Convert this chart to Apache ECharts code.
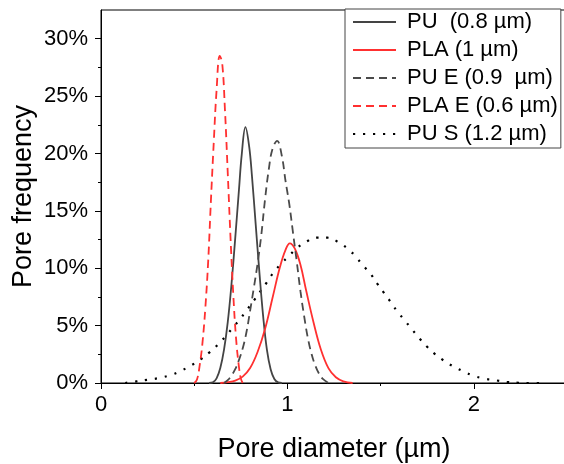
<!DOCTYPE html>
<html>
<head>
<meta charset="utf-8">
<script src="https://cdn.jsdelivr.net/npm/echarts@6/dist/echarts.min.js"></script>
<style>
html,body{margin:0;padding:0;background:#fff;}
#chart{width:564px;height:464px;}
</style>
</head>
<body>
<div id="chart"></div>
<script>
// Tick values
const xMajorTicks = [0, 1, 2];
const xMinorTicks = [0.5, 1.5];
const yMajorTicks = [0, 5, 10, 15, 20, 25, 30];
const yMinorTicks = [2.5, 7.5, 12.5, 17.5, 22.5, 27.5];

// Series names
const seriesNames = ['PU  (0.8 µm)', 'PLA (1 µm)', 'PU E (0.9  µm)', 'PLA E (0.6 µm)', 'PU S (1.2 µm)'];

// [pore diameter (µm), pore frequency (%)]
const PU = [[0.58,0],[0.60,0.05],[0.62,0.4],[0.64,1.3],[0.66,2.9],[0.68,5.3],[0.70,8.6],[0.72,12.6],[0.74,16.8],[0.755,19.9],[0.775,22.3],[0.795,20.6],[0.81,18.0],[0.83,13.8],[0.85,9.6],[0.87,5.8],[0.89,2.9],[0.91,1.2],[0.93,0.35],[0.95,0.05],[0.97,0]];
const PLA = [[0.64,0],[0.68,0.07],[0.72,0.2],[0.76,0.55],[0.80,1.3],[0.84,2.7],[0.88,4.7],[0.92,7.4],[0.96,10.1],[0.99,11.6],[1.013,12.17],[1.04,11.7],[1.07,10.3],[1.10,8.1],[1.14,5.3],[1.18,2.9],[1.22,1.3],[1.26,0.5],[1.30,0.15],[1.35,0]];
const PU_E = [[0.66,0],[0.68,0.25],[0.70,0.65],[0.72,1.2],[0.74,2.0],[0.76,3.0],[0.78,4.4],[0.80,6.3],[0.82,8.3],[0.84,10.4],[0.86,12.9],[0.88,16.0],[0.90,18.6],[0.92,20.4],[0.945,21.1],[0.97,19.8],[0.99,17.6],[1.01,15.6],[1.03,13.1],[1.05,10.6],[1.07,8.0],[1.09,5.8],[1.11,3.9],[1.13,2.5],[1.15,1.5],[1.17,0.8],[1.19,0.35],[1.22,0]];
const PLA_E = [[0.50,0],[0.515,0.3],[0.53,1.6],[0.545,3.6],[0.56,6.6],[0.575,10.6],[0.59,16.0],[0.605,21.0],[0.62,25.5],[0.637,28.5],[0.65,27.9],[0.665,23.8],[0.68,18.3],[0.695,12.6],[0.71,7.6],[0.725,3.8],[0.74,1.4],[0.75,0.4],[0.76,0]];
const PU_S = [[0.13,0],[0.19,0.14],[0.255,0.29],[0.31,0.43],[0.375,0.7],[0.43,1.07],[0.48,1.5],[0.536,2.08],[0.586,2.72],[0.63,3.39],[0.67,4.1],[0.71,4.87],[0.747,5.59],[0.783,6.37],[0.82,7.18],[0.854,7.97],[0.89,8.78],[0.925,9.62],[0.965,10.37],[1.008,11.07],[1.05,11.74],[1.10,12.3],[1.158,12.66],[1.215,12.66],[1.274,12.26],[1.328,11.65],[1.369,10.96],[1.408,10.2],[1.448,9.48],[1.483,8.63],[1.519,7.83],[1.555,7.04],[1.59,6.23],[1.63,5.44],[1.667,4.7],[1.707,3.91],[1.748,3.18],[1.792,2.52],[1.84,1.94],[1.89,1.44],[1.944,1.01],[1.998,0.63],[2.06,0.37],[2.12,0.23],[2.177,0.09],[2.24,0.02],[2.30,0],[2.36,0]];

const FONT = 'Liberation Sans, Arial, sans-serif';
const chart = echarts.init(document.getElementById('chart'), null, {renderer: 'canvas'});

function mkSeries(name, data, color, type, width) {
  return {
    name: name, type: 'line', data: data, xAxisIndex: 0, yAxisIndex: 0,
    showSymbol: false, symbol: 'none', smooth: 0.4,
    lineStyle: {color: color, width: width, type: type},
    itemStyle: {color: color},
    emphasis: {disabled: true}
  };
}

const option = {
  animation: false,
  backgroundColor: '#fff',
  textStyle: {fontFamily: FONT},
  grid: {left: 101, right: -3, top: 10, bottom: 81, containLabel: false, outerBoundsMode: 'none',
         show: true, borderColor: '#000', borderWidth: 1, backgroundColor: 'transparent'},
  xAxis: [{
    type: 'value', min: 0, max: 2.5, position: 'bottom',
    axisLine: {show: true, onZero: false, lineStyle: {color: '#000', width: 1}},
    axisTick: {show: true, inside: false, length: 6, customValues: xMajorTicks, lineStyle: {color: '#000', width: 1}},
    axisLabel: {show: true, customValues: xMajorTicks, fontSize: 22, color: '#000', margin: 11, fontFamily: FONT},
    splitLine: {show: false},
    name: 'Pore diameter (µm)', nameLocation: 'middle', nameGap: 53, nameMoveOverlap: false,
    nameTextStyle: {fontSize: 27, color: '#000', fontFamily: FONT}
  }, {
    type: 'value', min: 0, max: 2.5, position: 'bottom',
    axisLine: {show: false, onZero: false},
    axisTick: {show: true, inside: false, length: 3, customValues: xMinorTicks, lineStyle: {color: '#000', width: 1}},
    axisLabel: {show: false},
    splitLine: {show: false}
  }],
  yAxis: [{
    type: 'value', min: 0, max: 32.5, position: 'left',
    axisLine: {show: true, onZero: false, lineStyle: {color: '#000', width: 1}},
    axisTick: {show: true, inside: false, length: 6, customValues: yMajorTicks, lineStyle: {color: '#000', width: 1}},
    axisLabel: {show: true, customValues: yMajorTicks, formatter: '{value}%', fontSize: 22, color: '#000', margin: 13, fontFamily: FONT},
    splitLine: {show: false},
    name: 'Pore frequency', nameLocation: 'middle', nameGap: 64, nameMoveOverlap: false,
    nameTextStyle: {fontSize: 27, color: '#000', fontFamily: FONT}
  }, {
    type: 'value', min: 0, max: 32.5, position: 'left',
    axisLine: {show: false, onZero: false},
    axisTick: {show: true, inside: false, length: 3, customValues: yMinorTicks, lineStyle: {color: '#000', width: 1}},
    axisLabel: {show: false},
    splitLine: {show: false}
  }],
  legend: {
    orient: 'vertical', left: 345, top: 9,
    itemWidth: 43, itemHeight: 14, itemGap: 6,
    padding: [2, 3, 3, 7],
    borderColor: '#444', borderWidth: 1, backgroundColor: '#fff',
    itemStyle: {opacity: 0},
    textStyle: {fontSize: 22, color: '#000', fontFamily: FONT, lineHeight: 20, padding: [0, 0, 0, 6]},
    data: seriesNames,
    selectedMode: false
  },
  series: [
    mkSeries(seriesNames[4], PU_S, '#000', [2.2, 7.8], 2.2),
    mkSeries(seriesNames[0], PU, '#444', 'solid', 1.8),
    mkSeries(seriesNames[1], PLA, '#ff3030', 'solid', 1.8),
    mkSeries(seriesNames[2], PU_E, '#4a4a4a', [8, 5], 1.8),
    mkSeries(seriesNames[3], PLA_E, '#ff3030', [8, 5], 1.8)
  ]
};
chart.setOption(option);
</script>
</body>
</html>
